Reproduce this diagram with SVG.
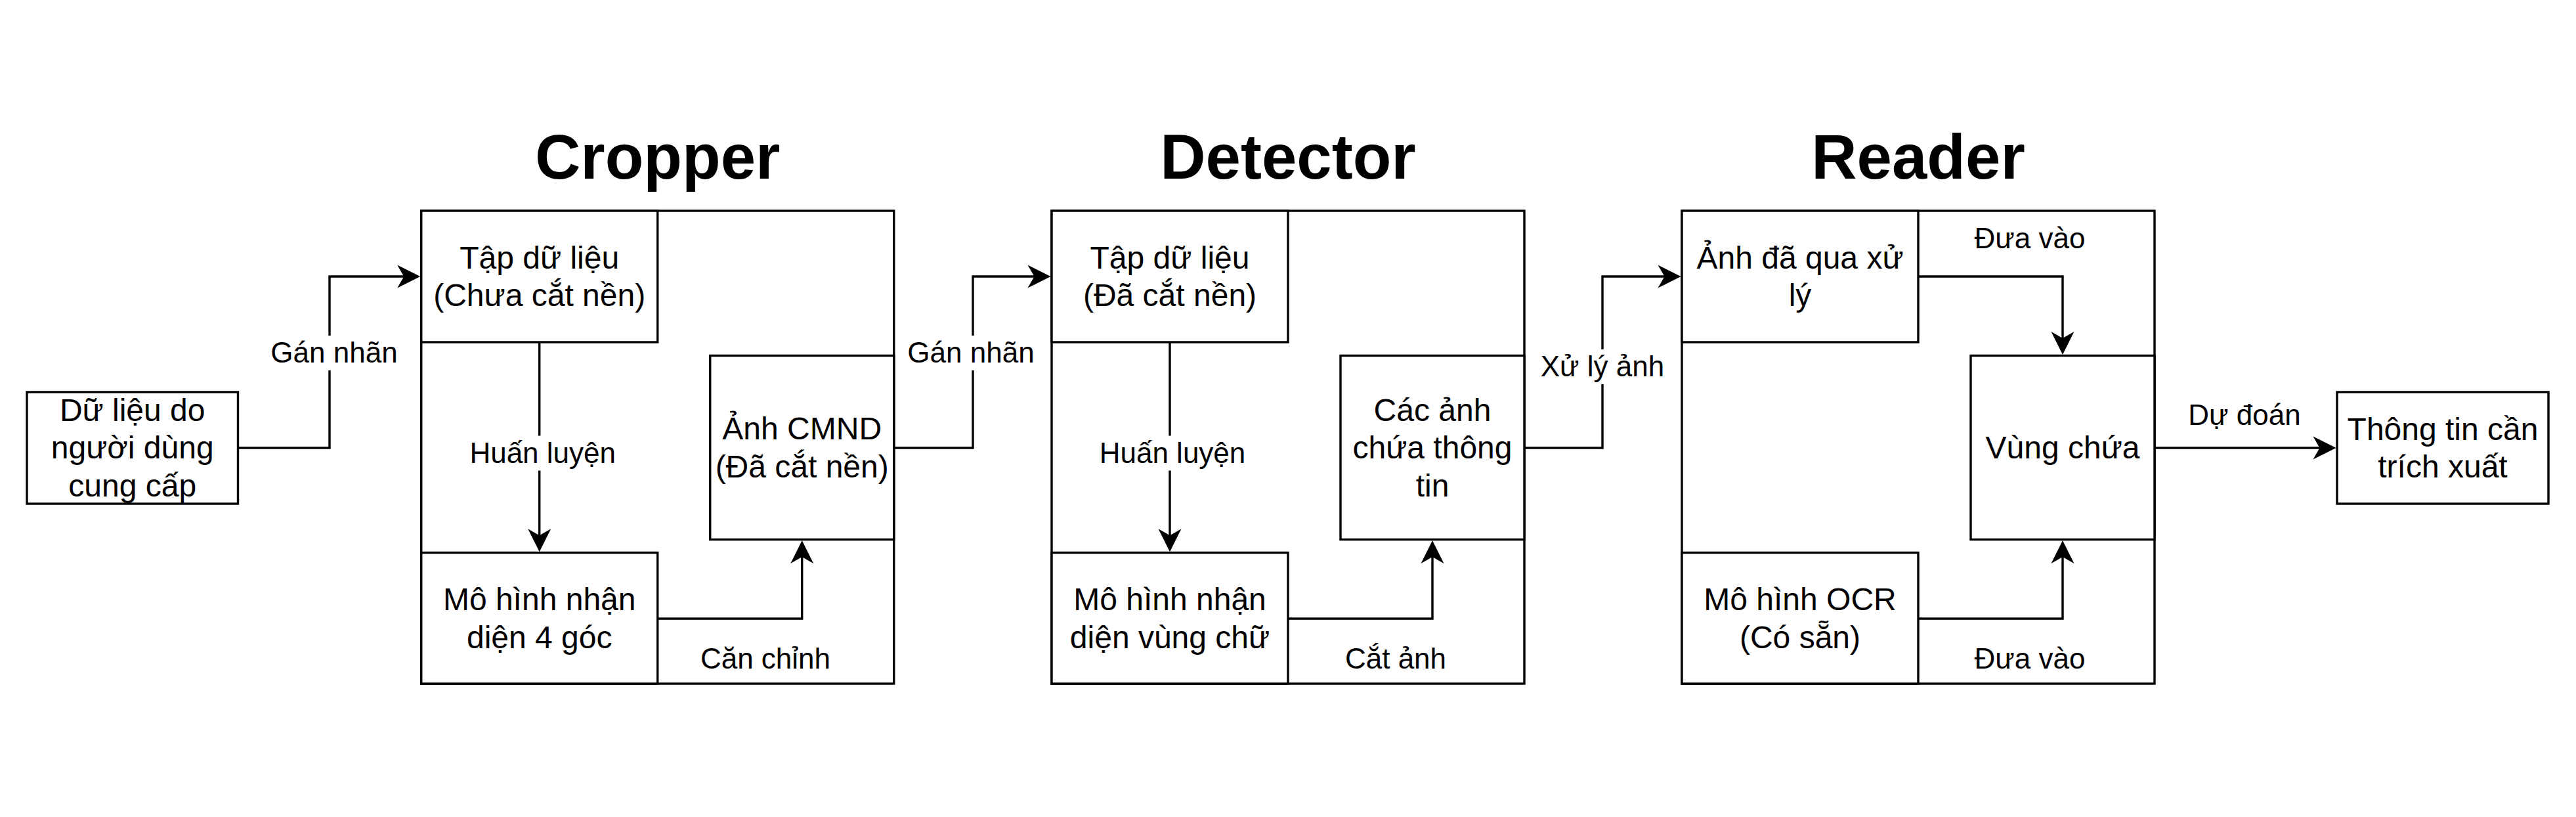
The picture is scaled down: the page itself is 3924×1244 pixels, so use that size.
<svg xmlns="http://www.w3.org/2000/svg" width="3924" height="1244" viewBox="0 0 3924 1244">
<style>
.box{fill:#fff;stroke:#000;stroke-width:3.4}
.t{font-family:"Liberation Sans",Arial,Helvetica,sans-serif;font-size:48px;fill:#000;text-anchor:middle}
.l{font-family:"Liberation Sans",Arial,Helvetica,sans-serif;font-size:44px;fill:#000;text-anchor:middle}
.h{font-family:"Liberation Sans",Arial,Helvetica,sans-serif;font-size:96px;font-weight:bold;fill:#000;text-anchor:middle}
.e{fill:none;stroke:#000;stroke-width:3.4;marker-end:url(#arr)}
.bg{fill:#fff}
</style>
<defs>
<marker id="arr" markerUnits="userSpaceOnUse" viewBox="-20 -20 45 40" markerWidth="45" markerHeight="40" refX="0" refY="0" orient="auto">
<path d="M20,0 L-15,-17.5 L-5,0 L-15,17.5 Z" fill="#000"/>
</marker>
</defs>
<rect width="3924" height="1244" fill="#fff"/>

<g id="title-cropper"><text class="h" x="1001.7" y="272">Cropper</text></g>
<g id="title-detector"><text class="h" x="1962" y="272">Detector</text></g>
<g id="title-reader"><text class="h" x="2922" y="272">Reader</text></g>

<g id="cropper"><rect class="box" x="641.7" y="321" width="720" height="720"/></g>
<g id="detector"><rect class="box" x="1602" y="321" width="720" height="720"/></g>
<g id="reader"><rect class="box" x="2562" y="321" width="720" height="720"/></g>

<g id="user-data">
<rect class="box" x="41" y="597" width="321.5" height="170"/>
<text class="t" x="201.7" y="640.7">Dữ liệu do</text>
<text class="t" x="201.7" y="698.3">người dùng</text>
<text class="t" x="201.7" y="755.9">cung cấp</text>
</g>

<g id="c-dataset">
<rect class="box" x="641.7" y="321" width="360" height="200"/>
<text class="t" x="821.7" y="408.8">Tập dữ liệu</text>
<text class="t" x="821.7" y="466.4">(Chưa cắt nền)</text>
</g>
<g id="c-model">
<rect class="box" x="641.7" y="841.5" width="360" height="199.5"/>
<text class="t" x="821.7" y="929.1">Mô hình nhận</text>
<text class="t" x="821.7" y="986.7">diện 4 góc</text>
</g>
<g id="c-image">
<rect class="box" x="1081.7" y="541.5" width="280" height="280"/>
<text class="t" x="1221.7" y="669.3">Ảnh CMND</text>
<text class="t" x="1221.7" y="726.9">(Đã cắt nền)</text>
</g>

<g id="d-dataset">
<rect class="box" x="1602" y="321" width="360" height="200"/>
<text class="t" x="1782" y="408.8">Tập dữ liệu</text>
<text class="t" x="1782" y="466.4">(Đã cắt nền)</text>
</g>
<g id="d-model">
<rect class="box" x="1602" y="841.5" width="360" height="199.5"/>
<text class="t" x="1782" y="929.1">Mô hình nhận</text>
<text class="t" x="1782" y="986.7">diện vùng chữ</text>
</g>
<g id="d-images">
<rect class="box" x="2042" y="541.5" width="280" height="280"/>
<text class="t" x="2182" y="640.7">Các ảnh</text>
<text class="t" x="2182" y="698.3">chứa thông</text>
<text class="t" x="2182" y="755.9">tin</text>
</g>

<g id="r-processed">
<rect class="box" x="2562" y="321" width="360" height="200"/>
<text class="t" x="2742" y="408.8">Ảnh đã qua xử</text>
<text class="t" x="2742" y="466.4">lý</text>
</g>
<g id="r-ocr">
<rect class="box" x="2562" y="841.5" width="360" height="199.5"/>
<text class="t" x="2742" y="929.1">Mô hình OCR</text>
<text class="t" x="2742" y="986.7">(Có sẵn)</text>
</g>
<g id="r-region">
<rect class="box" x="3002" y="541.5" width="280" height="280"/>
<text class="t" x="3142" y="698">Vùng chứa</text>
</g>

<g id="output">
<rect class="box" x="3560" y="597" width="322" height="170"/>
<text class="t" x="3721" y="669.8">Thông tin cần</text>
<text class="t" x="3721" y="727.4">trích xuất</text>
</g>

<g id="connectors">
<path class="e" d="M362.5,682 H502 V421 H620.2"/>
<path class="e" d="M821.7,521 V820.2"/>
<path class="e" d="M1001.7,942 H1221.7 V843"/>
<path class="e" d="M1361.7,682 H1482 V421 H1580.5"/>
<path class="e" d="M1782,521 V820.2"/>
<path class="e" d="M1962,942 H2182 V843"/>
<path class="e" d="M2322,682 H2441 V421 H2540.5"/>
<path class="e" d="M2922,421 H3142 V520"/>
<path class="e" d="M2922,942 H3142 V843"/>
<path class="e" d="M3282,682 H3538.5"/>

<rect class="bg" x="413" y="511" width="194" height="53"/>
<text class="l" x="509" y="552">Gán nhãn</text>
<rect class="bg" x="716" y="663.5" width="222" height="53"/>
<text class="l" x="826.7" y="705">Huấn luyện</text>
<text class="l" x="1166" y="1018">Căn chỉnh</text>
<rect class="bg" x="1382" y="511" width="194" height="53"/>
<text class="l" x="1479" y="552">Gán nhãn</text>
<rect class="bg" x="1675" y="663.5" width="222" height="53"/>
<text class="l" x="1786" y="705">Huấn luyện</text>
<text class="l" x="2126" y="1018">Cắt ảnh</text>
<rect class="bg" x="2347" y="532" width="188" height="53"/>
<text class="l" x="2441" y="573">Xử lý ảnh</text>
<text class="l" x="3092" y="378">Đưa vào</text>
<text class="l" x="3092" y="1018">Đưa vào</text>
<text class="l" x="3419" y="647">Dự đoán</text>
</g>
</svg>
